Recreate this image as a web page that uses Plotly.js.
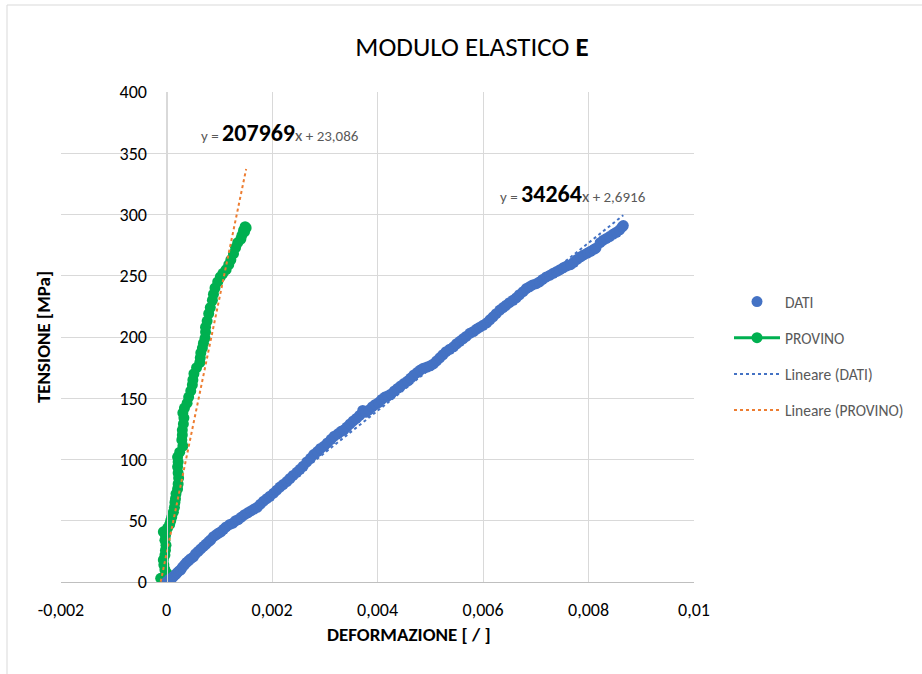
<!DOCTYPE html>
<html><head><meta charset="utf-8">
<script src="https://cdn.plot.ly/plotly-3.0.1.min.js"></script>
<style>html,body{margin:0;padding:0;background:#fff}#chart{width:922px;height:674px}</style>
</head><body><div id="chart"></div>
<script>
// DATI series (strain, stress MPa)
const datiX = [0,0.00003,0.00006,0.0001,0.00013,0.00017,0.0002,0.00024,0.00027,0.0003,0.00034,0.00038,0.00042,0.00046,0.00051,0.00055,0.0006,0.00065,0.0007,0.00075,0.0008,0.00084,0.00089,0.00094,0.00099,0.00103,0.00108,0.00113,0.0012,0.00126,0.00131,0.00136,0.00142,0.00148,0.00154,0.0016,0.00166,0.00172,0.00178,0.00184,0.0019,0.00196,0.00203,0.00209,0.00215,0.00221,0.00228,0.00234,0.0024,0.00247,0.00253,0.00259,0.00266,0.00273,0.00279,0.00286,0.00292,0.00299,0.00305,0.00312,0.00318,0.00325,0.00331,0.00336,0.00342,0.00348,0.00354,0.0036,0.00366,0.00372,0.00378,0.00384,0.0039,0.00396,0.00402,0.00408,0.00414,0.0042,0.00426,0.00432,0.00438,0.00444,0.0045,0.00457,0.00463,0.00469,0.00475,0.00481,0.00487,0.00494,0.005,0.00506,0.00512,0.00518,0.00524,0.0053,0.00537,0.00544,0.0055,0.00556,0.00562,0.00568,0.00575,0.00582,0.00588,0.00594,0.006,0.00607,0.00613,0.00619,0.00625,0.00632,0.00638,0.00644,0.0065,0.00657,0.00663,0.00669,0.00676,0.00682,0.00688,0.00694,0.00701,0.00707,0.00713,0.0072,0.00727,0.00733,0.0074,0.00746,0.00752,0.00759,0.00766,0.00772,0.00779,0.00785,0.00791,0.00798,0.00804,0.0081,0.00814,0.00822,0.00828,0.00834,0.0084,0.00847,0.00853,0.00859,0.00864,0.00866];
const datiY = [0,1,2.5,3,4.5,6,7.5,9,10,12,14,16,17.5,19,20.5,23,25,27,29,31,33,34.5,37,38.5,40,41,43,45,47,48,50,51,53,55,56.5,58,59.5,61,63.5,66,68,70,72.5,75,77.5,79.5,82,84.5,87,89.5,92,94.5,98,101,104,106.5,109,111,113.5,116.5,119,121,123,124,126.5,129,131.5,133.5,136,140,138.5,140.5,143,145,146.5,149,151,152,153.5,156,158,160,162,164,166.5,169,171,173,174.5,175.5,176.5,178,180.5,183,185.5,188,190,192,194.5,196.5,198.5,200.5,203,204.5,206.5,208,209.5,211.5,214,216.5,219,222,224,226,228,230,232,234.5,237,239.5,241,242.5,243.5,245,247,249,250.5,252,253.5,255,256.5,258,259,261,263.5,265.5,267,268.5,270,271.5,272.5,277,279,280.5,282,284,285.5,287.5,290,291];

// PROVINO series
const provinoX = [-0.00011,-0.00008,-0.00002,0.00001,-0.00003,-0.00005,-0.00006,-0.00003,-0.00002,-0.00001,-0.00003,-0.00002,-0.00006,0.00002,0.00006,0.00008,0.0001,0.00013,0.00015,0.00016,0.00017,0.00018,0.00021,0.00022,0.00023,0.00022,0.00021,0.00022,0.00021,0.00025,0.00031,0.00029,0.0003,0.0003,0.00032,0.00033,0.00031,0.00034,0.00039,0.00042,0.00046,0.00049,0.0005,0.00052,0.00057,0.00063,0.00064,0.00065,0.00068,0.0007,0.00073,0.00074,0.00074,0.00077,0.0008,0.00083,0.00087,0.00089,0.00092,0.00097,0.00102,0.00107,0.00113,0.00118,0.00122,0.00127,0.00131,0.00135,0.00141,0.00143,0.00146,0.00149,0.00151,0.00148];
const provinoY = [3,2,5,7,10,14,18,22,26,30,34,38,41,44,47,50,53,57,61,65,68,72,76,80,85,89,94,98,102,106,111,116,120,124,129,134,138,142,146,151,156,161,165,170,175,179,183,187,191,195,199,204,208,213,219,224,230,235,240,245,249,252,255,259,263,268,273,277,280,283,287,290,289,286];

// Linear trendline coefficients (from chart labels)
const datiSlope = 34264, datiIntercept = 2.6916;
const provinoSlope = 207969, provinoIntercept = 23.086;

// Axis ticks
const xTickVals = [-0.002,0,0.002,0.004,0.006,0.008,0.01];
const xTickText = ['-0,002','0','0,002','0,004','0,006','0,008','0,01'];
const yTickVals = [0,50,100,150,200,250,300,350,400];

const F = 'Carlito, Calibri, Lato, sans-serif';

function trend(xs, m, q){
  const a = Math.min(...xs), b = Math.max(...xs);
  return {x:[a,b], y:[m*a+q, m*b+q]};
}
const tD = trend(datiX, datiSlope, datiIntercept);
const tP = trend(provinoX, provinoSlope, provinoIntercept);

const traces = [
  {x:provinoX, y:provinoY, type:'scatter', mode:'lines+markers', name:'PROVINO', legendgroup:'b', legendrank:2,
   line:{color:'#00B050', width:3}, marker:{color:'#00B050', size:11}},
  {x:datiX, y:datiY, type:'scatter', mode:'markers', name:'DATI', legendgroup:'a', legendrank:1,
   marker:{color:'#4472C4', size:11}},
  {x:tD.x, y:tD.y, type:'scatter', mode:'lines', name:'Lineare (DATI)', legendgroup:'c', legendrank:3,
   line:{color:'#4472C4', width:2, dash:'dot'}},
  {x:tP.x, y:tP.y, type:'scatter', mode:'lines', name:'Lineare (PROVINO)', legendgroup:'d', legendrank:4,
   line:{color:'#ED7D31', width:2, dash:'dot'}}
];

const L=61, R=694, T=92, B=582;
const pw = R-L, ph = B-T;
const px = v => (v-L)/pw, py = v => (B-v)/ph;

const layout = {
  width:922, height:674,
  margin:{l:L, r:922-R, t:T, b:674-B},
  paper_bgcolor:'#fff', plot_bgcolor:'#fff',
  font:{family:F, color:'#404040'},
  title:{text:'MODULO ELASTICO <b>E</b>', font:{family:F, size:27, color:'#000'},
         x:472/922, xref:'container', xanchor:'center', y:1-47/674, yref:'container', yanchor:'middle'},
  xaxis:{range:[-0.002,0.01], tickvals:xTickVals, ticktext:xTickText,
         showgrid:true, gridcolor:'#D9D9D9', gridwidth:1, zeroline:false,
         showline:true, linecolor:'#BFBFBF', linewidth:1, ticks:'',
         ticklabelstandoff:11,
         tickfont:{family:F, size:18, color:'#000'}},
  yaxis:{range:[0,400], tickvals:yTickVals, anchor:'free', position:1/6,
         showgrid:true, gridcolor:'#D9D9D9', gridwidth:1, zeroline:false,
         showline:true, linecolor:'#D9D9D9', linewidth:1, ticks:'',
         ticklabelstandoff:16,
         tickfont:{family:F, size:18, color:'#000'},
         title:{text:'<b>TENSIONE [MPa]</b>', font:{family:F, size:19, color:'#000'}, standoff:62}},
  showlegend:true,
  legend:{x:px(729), y:py(285), xanchor:'left', yanchor:'top', traceorder:'grouped', tracegroupgap:13,
          itemwidth:46, font:{family:F, size:15.5, color:'#595959'}, bgcolor:'rgba(0,0,0,0)'},
  annotations:[
    {xref:'paper', yref:'paper', x:px(409), y:py(634), xanchor:'center', yanchor:'middle', showarrow:false,
     text:'<b>DEFORMAZIONE [ / ]</b>', font:{family:F, size:19, color:'#000'}},
    {xref:'x', yref:'y', x:(198-166)/52750, y:(582-132)/1.225, xanchor:'left', yanchor:'middle', showarrow:false,
     text:'y = <b><span style="font-size:24px;color:#000">207969</span></b><span style="font-size:17px">x</span> + 23,086',
     font:{family:F, size:15, color:'#595959'}},
    {xref:'x', yref:'y', x:(497-166)/52750, y:(582-193)/1.225, xanchor:'left', yanchor:'middle', showarrow:false,
     text:'y = <b><span style="font-size:24px;color:#000">34264</span></b><span style="font-size:17px">x</span> + 2,6916',
     font:{family:F, size:15, color:'#595959'}}
  ],
  shapes:[
    {type:'rect', xref:'paper', yref:'paper', x0:px(7), x1:px(940), y0:py(700), y1:py(5),
     line:{color:'#D9D9D9', width:1}, fillcolor:'rgba(0,0,0,0)', layer:'below'}
  ]
};

Plotly.newPlot('chart', traces, layout, {displayModeBar:false, staticPlot:true});
</script>
</body></html>
